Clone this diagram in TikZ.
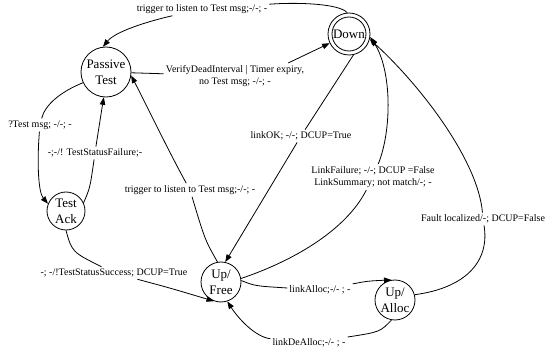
\documentclass[tikz,border=0pt]{standalone}
\usepackage{fontspec}
\setmainfont{Liberation Serif}
\usetikzlibrary{arrows.meta}
\begin{document}
\begin{tikzpicture}[x=1pt,y=-1pt,
  state/.style={circle,draw,line width=0.8pt,inner sep=0pt,align=center,
    font=\fontsize{13}{16}\selectfont},
  elabel/.style={inner sep=2pt,align=center,font=\fontsize{10}{12.5}\selectfont},
  edge/.style={line width=0.8pt},
  arr/.style={edge,-{Triangle[length=7.5pt,width=5.5pt]}},
]
\useasboundingbox (0,0) rectangle (550,353);

% states
\node[state,minimum size=50pt] (passive) at (106,72) {Passive\\Test};
\node[state,minimum size=38pt] (testack) at (66,211) {Test\\Ack};
\node[state,minimum size=42pt] (down) at (349,34) {};
\node[state,minimum size=34pt] (downin) at (349,34) {Down};
\node[state,minimum size=40pt] (upfree) at (221,282) {Up/\\Free};
\node[state,minimum size=40pt] (upalloc) at (395,300) {Up/\\Alloc};

% transition labels
\node[elabel] (l1) at (202,9) {trigger to listen to Test msg;-/-; -};
\node[elabel] (l2) at (235,76) {VerifyDeadInterval | Timer expiry,\\no Test msg; -/-; -};
\node[elabel] (l3) at (40,125) {?Test msg; -/-; -};
\node[elabel] (l4) at (95,153) {-;-/! TestStatusFailure;-};
\node[elabel] (l5) at (190,190) {trigger to listen to Test msg;-/-; -};
\node[elabel] (l6) at (301,136) {linkOK; -/-; DCUP=True};
\node[elabel] (l7) at (373,177) {LinkFailure; -/-; DCUP =False\\LinkSummary; not match/-; -};
\node[elabel] (l8) at (483,219) {Fault localized/-; DCUP=False};
\node[elabel] (l9) at (320,290) {linkAlloc;-/- ; -};
\node[elabel] (l10) at (309,343) {linkDeAlloc;-/- ; -};
\node[elabel] (l11) at (114,273) {-; -/!TestStatusSuccess; DCUP=True};

% transitions
\draw[edge] (down.95) .. controls (340,4) and (300,2) .. (l1);
\draw[arr] (l1) .. controls (145,22) and (115,32) .. (passive.97);

\draw[edge] (passive) -- (l2);
\draw[arr] ([xshift=-18pt]l2.north east) -- (down);

\draw[edge] (passive.205) .. controls (60,92) and (45,105) .. (l3);
\draw[arr] (l3) .. controls (37,160) and (38,192) .. (testack.158);

\draw[edge] (testack.25) .. controls (90,188) .. (l4);
\draw[arr] (l4) .. controls (99,125) .. (passive.-95);

\draw[edge] (upfree.100) .. controls (205,240) .. (l5);
\draw[arr] (l5) .. controls (168,150) and (148,108) .. (passive.-8);

\draw[edge] (down.-78) -- (l6);
\draw[arr] (l6) -- (upfree.78);

\draw[edge] (upfree.10) .. controls (290,262) and (345,232) .. (l7);
\draw[arr] (l7) .. controls (392,130) and (392,70) .. (down.-8);

\draw[edge] (upalloc.15) .. controls (465,288) and (490,262) .. (l8);
\draw[arr] (l8) .. controls (478,160) and (420,85) .. (down.-14);

\draw[edge] (upfree.4) .. controls (255,286) .. (l9);
\draw[arr] (l9) .. controls (368,281) .. (upalloc.100);

\draw[edge] (upalloc.-100) .. controls (380,332) .. (l10);
\draw[arr] (l10) .. controls (255,337) and (238,318) .. (upfree.-72);

\draw[edge] (testack.-90) .. controls (72,252) .. (l11);
\draw[arr] (l11) .. controls (170,288) .. (upfree.-110);
\end{tikzpicture}
\end{document}
